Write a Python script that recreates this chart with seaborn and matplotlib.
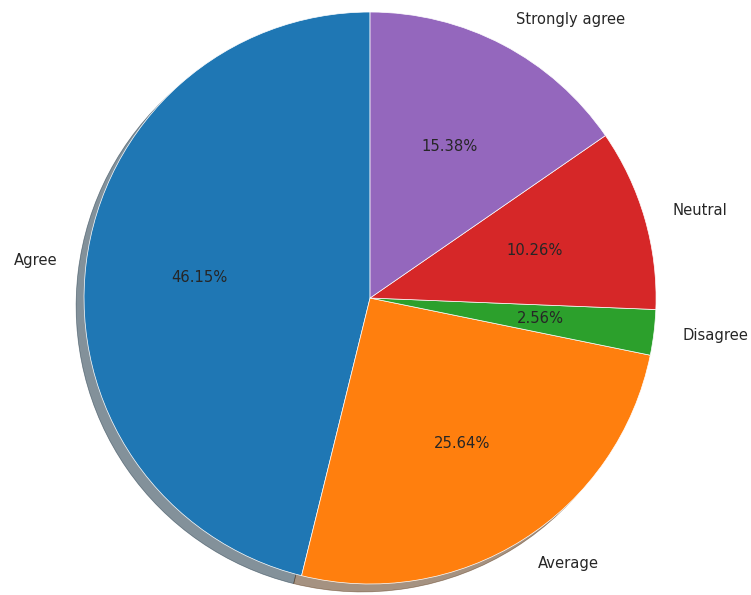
import matplotlib
matplotlib.use("Agg")
import matplotlib.pyplot as plt
import seaborn as sns

# answer counts (out of 39)
labels = ['Agree', 'Average', 'Disagree', 'Neutral', 'Strongly agree']
counts = [18, 10, 1, 4, 6]
colors = sns.color_palette("tab10", 5)

sns.set_style("white")
plt.rcParams['font.family'] = ['DejaVu Sans']

fig = plt.figure(figsize=(7.51, 5.95), dpi=100)
ax = fig.add_axes([0.1119, 0.0185, 0.7617, 0.9613])
ax.pie(counts, labels=labels, colors=colors, autopct='%1.2f%%',
       startangle=90, shadow=True,
       wedgeprops={'edgecolor': 'white', 'linewidth': 0.5},
       textprops={'fontsize': 10.6, 'color': '#262626'})
ax.set_xlim(-1, 1)
ax.set_ylim(-1, 1)
ax.set_aspect('auto')
ax.axis('off')

fig.savefig('out.png', dpi=100)
